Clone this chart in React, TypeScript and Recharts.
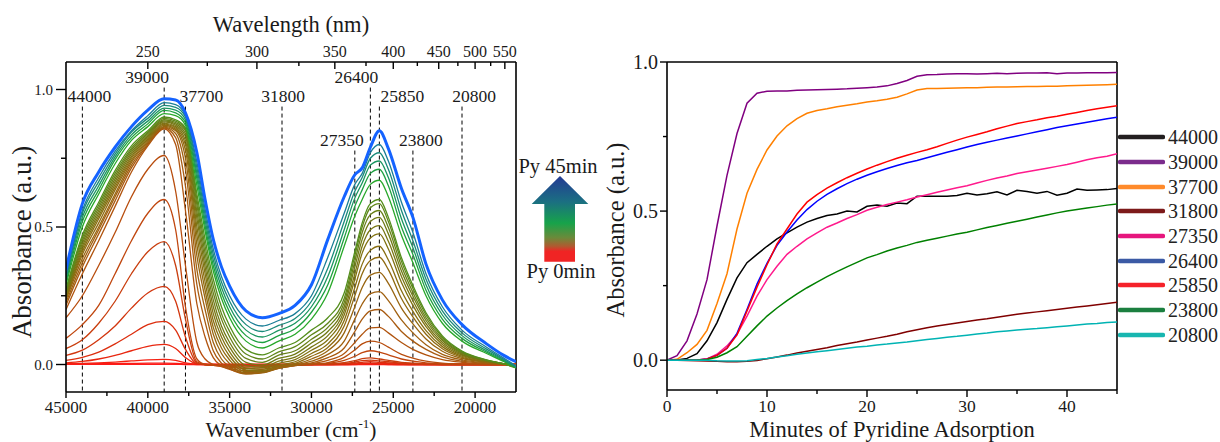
import { Legend, Line, LineChart, ReferenceLine, XAxis, YAxis } from "recharts";

const SERIF = '"Liberation Serif", "Times New Roman", serif';
const INK = "#1a1a1a";

// ---- left panel: UV-vis spectra, one array per snapshot (Py 0 min -> Py 45 min)
const WAVENUMBERS = [
  45000, 44000, 43000, 42000, 41000, 40000, 39000, 38300, 37700, 37000, 36500, 36000, 35500, 35000, 34000, 33000, 32000,
  31000, 30000, 29000, 28000, 27350, 26900, 26400, 25850, 25300, 24500, 23800, 23000, 22000, 20800, 19300, 18300, 17500,
];

const S00 = [0.001, 0.001, 0.001, 0.001, 0.001, 0.001, 0.001, 0.001, 0, 0, 0, 0, 0, 0, 0, 0, 0, 0, 0, 0, 0, 0, 0, 0, 0, 0, 0, 0, 0, 0, 0, 0, 0, 0];
const S01 = [0.002, 0.002, 0.003, 0.003, 0.004, 0.005, 0.005, 0.004, 0.002, 0, 0, 0, 0, 0, 0, 0, 0, 0, 0, 0, 0, 0, 0.001, 0.001, 0.001, 0, 0, 0, 0, 0, 0, 0, 0, 0];
const S02 = [0.003, 0.004, 0.006, 0.009, 0.013, 0.017, 0.019, 0.015, 0.006, 0.001, 0, 0, 0, 0, 0, 0, 0, 0, 0, 0, 0, 0.001, 0.002, 0.003, 0.002, 0.001, 0, 0, 0, 0, 0, 0, 0, 0];
const S03 = [0.006, 0.011, 0.02, 0.033, 0.05, 0.066, 0.073, 0.058, 0.025, 0.002, 0, 0, -0.001, -0.001, -0.001, -0.001, 0, 0, 0, 0, 0.001, 0.002, 0.004, 0.005, 0.004, 0.003, 0.001, 0, 0, 0, 0, 0, 0, 0];
const S04 = [0.015, 0.026, 0.045, 0.075, 0.11, 0.145, 0.157, 0.125, 0.055, 0.003, 0, -0.001, -0.002, -0.002, -0.003, -0.002, -0.001, 0, 0, 0, 0.002, 0.005, 0.008, 0.01, 0.008, 0.006, 0.003, 0.002, 0, 0, 0, 0, 0, 0];
const S05 = [0.033, 0.052, 0.09, 0.14, 0.205, 0.26, 0.284, 0.23, 0.1, 0.006, 0, -0.002, -0.003, -0.004, -0.005, -0.004, -0.002, 0, 0, 0.001, 0.004, 0.009, 0.014, 0.016, 0.013, 0.01, 0.005, 0.003, 0.001, 0, 0, 0, 0, 0];
const S06 = [0.058, 0.09, 0.15, 0.23, 0.33, 0.41, 0.447, 0.36, 0.165, 0.01, 0, -0.003, -0.005, -0.007, -0.009, -0.008, -0.004, -0.001, 0, 0.002, 0.007, 0.014, 0.021, 0.024, 0.02, 0.015, 0.008, 0.005, 0.002, 0, 0, 0, 0, 0];
const S07 = [0.095, 0.145, 0.215, 0.33, 0.45, 0.55, 0.6, 0.49, 0.21, 0.02, 0, -0.003, -0.006, -0.01, -0.014, -0.012, -0.006, -0.002, 0, 0.004, 0.015, 0.03, 0.043, 0.05, 0.045, 0.035, 0.02, 0.012, 0.006, 0.002, 0, 0, 0, 0];
const S08 = [0.17, 0.25, 0.36, 0.48, 0.61, 0.71, 0.76, 0.63, 0.36, 0.08, 0.02, 0, -0.008, -0.015, -0.022, -0.018, -0.009, -0.003, 0.001, 0.007, 0.026, 0.053, 0.075, 0.085, 0.08, 0.063, 0.037, 0.023, 0.012, 0.005, 0.002, 0, 0, 0];
const S09 = [0.2, 0.33, 0.45, 0.575, 0.7, 0.795, 0.857, 0.8, 0.56, 0.22, 0.1, 0.025, -0.005, -0.018, -0.03, -0.025, -0.012, -0.004, 0.003, 0.015, 0.04, 0.08, 0.11, 0.133, 0.135, 0.115, 0.08, 0.055, 0.035, 0.018, 0.008, 0.003, 0.001, 0];
const S10 = [0.215, 0.355, 0.475, 0.595, 0.715, 0.8, 0.86, 0.825, 0.65, 0.29, 0.155, 0.05, 0.005, -0.015, -0.034, -0.029, -0.014, -0.004, 0.006, 0.025, 0.06, 0.12, 0.165, 0.195, 0.2, 0.175, 0.12, 0.085, 0.055, 0.028, 0.012, 0.004, 0.001, -0.002];
const S11 = [0.225, 0.37, 0.49, 0.61, 0.725, 0.805, 0.863, 0.84, 0.71, 0.345, 0.2, 0.08, 0.02, -0.008, -0.034, -0.03, -0.014, -0.003, 0.012, 0.037, 0.085, 0.165, 0.22, 0.258, 0.265, 0.232, 0.162, 0.115, 0.072, 0.037, 0.017, 0.006, 0.001, -0.003];
const S12 = [0.235, 0.385, 0.5, 0.62, 0.735, 0.81, 0.866, 0.85, 0.75, 0.395, 0.24, 0.11, 0.04, 0.003, -0.031, -0.029, -0.012, 0, 0.02, 0.05, 0.115, 0.21, 0.28, 0.325, 0.335, 0.295, 0.205, 0.148, 0.093, 0.048, 0.022, 0.008, 0.002, -0.004];
const S13 = [0.24, 0.4, 0.515, 0.635, 0.742, 0.815, 0.87, 0.855, 0.78, 0.435, 0.27, 0.135, 0.06, 0.016, -0.026, -0.026, -0.008, 0.004, 0.03, 0.062, 0.14, 0.25, 0.33, 0.378, 0.39, 0.345, 0.24, 0.173, 0.11, 0.057, 0.026, 0.009, 0.002, -0.005];
const S14 = [0.245, 0.41, 0.53, 0.645, 0.75, 0.82, 0.874, 0.86, 0.8, 0.47, 0.3, 0.16, 0.08, 0.03, -0.02, -0.022, -0.003, 0.01, 0.04, 0.075, 0.16, 0.28, 0.365, 0.415, 0.43, 0.38, 0.268, 0.193, 0.123, 0.065, 0.03, 0.01, 0.002, -0.006];
const S15 = [0.25, 0.42, 0.54, 0.655, 0.757, 0.825, 0.878, 0.865, 0.815, 0.5, 0.33, 0.185, 0.1, 0.046, -0.013, -0.017, 0.004, 0.018, 0.052, 0.09, 0.18, 0.31, 0.405, 0.46, 0.475, 0.42, 0.298, 0.215, 0.138, 0.073, 0.034, 0.012, 0.003, -0.007];
const S16 = [0.255, 0.43, 0.55, 0.665, 0.765, 0.83, 0.882, 0.87, 0.83, 0.53, 0.355, 0.21, 0.12, 0.063, -0.004, -0.01, 0.012, 0.027, 0.064, 0.105, 0.195, 0.33, 0.43, 0.49, 0.505, 0.448, 0.32, 0.232, 0.149, 0.08, 0.037, 0.013, 0.003, -0.008];
const S17 = [0.26, 0.44, 0.56, 0.675, 0.772, 0.835, 0.886, 0.875, 0.84, 0.555, 0.38, 0.235, 0.14, 0.08, 0.008, -0.002, 0.022, 0.038, 0.078, 0.12, 0.21, 0.355, 0.455, 0.52, 0.535, 0.475, 0.34, 0.248, 0.16, 0.087, 0.04, 0.014, 0.003, -0.009];
const S18 = [0.265, 0.45, 0.57, 0.685, 0.78, 0.84, 0.89, 0.88, 0.85, 0.58, 0.405, 0.26, 0.165, 0.1, 0.022, 0.008, 0.034, 0.05, 0.092, 0.135, 0.225, 0.375, 0.48, 0.545, 0.56, 0.498, 0.358, 0.262, 0.17, 0.093, 0.043, 0.015, 0.003, -0.01];
const S19 = [0.27, 0.46, 0.58, 0.695, 0.787, 0.845, 0.895, 0.885, 0.855, 0.6, 0.43, 0.285, 0.185, 0.12, 0.038, 0.02, 0.046, 0.065, 0.108, 0.15, 0.24, 0.395, 0.5, 0.57, 0.585, 0.52, 0.375, 0.276, 0.18, 0.099, 0.046, 0.016, 0.003, -0.011];
const S20 = [0.275, 0.47, 0.59, 0.705, 0.795, 0.85, 0.9, 0.89, 0.86, 0.62, 0.455, 0.31, 0.21, 0.14, 0.055, 0.035, 0.06, 0.08, 0.125, 0.17, 0.26, 0.41, 0.515, 0.585, 0.6, 0.535, 0.388, 0.287, 0.188, 0.104, 0.049, 0.017, 0.003, -0.012];
const S21 = [0.29, 0.5, 0.62, 0.73, 0.815, 0.865, 0.912, 0.905, 0.87, 0.65, 0.485, 0.34, 0.24, 0.17, 0.085, 0.06, 0.085, 0.11, 0.165, 0.26, 0.43, 0.54, 0.6, 0.655, 0.67, 0.61, 0.47, 0.37, 0.25, 0.15, 0.085, 0.04, 0.012, -0.012];
const S22 = [0.3, 0.52, 0.635, 0.745, 0.825, 0.875, 0.924, 0.915, 0.88, 0.675, 0.505, 0.36, 0.26, 0.19, 0.105, 0.08, 0.105, 0.13, 0.19, 0.29, 0.46, 0.575, 0.635, 0.695, 0.71, 0.65, 0.5, 0.4, 0.27, 0.165, 0.095, 0.045, 0.015, -0.011];
const S23 = [0.31, 0.535, 0.65, 0.755, 0.835, 0.885, 0.932, 0.925, 0.89, 0.695, 0.525, 0.38, 0.28, 0.21, 0.125, 0.1, 0.124, 0.15, 0.21, 0.32, 0.49, 0.605, 0.66, 0.725, 0.74, 0.68, 0.53, 0.425, 0.29, 0.18, 0.105, 0.05, 0.018, -0.01];
const S24 = [0.32, 0.55, 0.665, 0.765, 0.845, 0.895, 0.942, 0.935, 0.9, 0.715, 0.545, 0.4, 0.3, 0.23, 0.145, 0.12, 0.142, 0.167, 0.23, 0.35, 0.52, 0.63, 0.68, 0.75, 0.77, 0.71, 0.56, 0.45, 0.31, 0.195, 0.115, 0.056, 0.021, -0.008];
const S25 = [0.325, 0.56, 0.68, 0.775, 0.85, 0.905, 0.952, 0.945, 0.905, 0.735, 0.565, 0.42, 0.32, 0.25, 0.165, 0.14, 0.16, 0.185, 0.25, 0.39, 0.55, 0.655, 0.695, 0.77, 0.8, 0.74, 0.59, 0.48, 0.33, 0.21, 0.125, 0.063, 0.025, -0.005];
const S26 = [0.345, 0.585, 0.7, 0.79, 0.865, 0.925, 0.966, 0.962, 0.915, 0.77, 0.6, 0.455, 0.355, 0.285, 0.195, 0.17, 0.185, 0.215, 0.29, 0.455, 0.61, 0.69, 0.715, 0.79, 0.85, 0.785, 0.64, 0.535, 0.365, 0.235, 0.145, 0.075, 0.035, 0.01];

const SPECTRA = [S00, S01, S02, S03, S04, S05, S06, S07, S08, S09, S10, S11, S12, S13, S14, S15, S16, S17, S18, S19, S20, S21, S22, S23, S24, S25, S26];

const WAVELENGTH_TICKS = [250, 275, 300, 325, 350, 375, 400, 425, 450, 475, 500, 525, 550];
const WAVENUMBER_TICKS = [45000, 42500, 40000, 37500, 35000, 32500, 30000, 27500, 25000, 22500, 20000];
const ABS_TICKS = [0, 0.25, 0.5, 0.75, 1];
const MARKERS = [44000, 39000, 37700, 31800, 27350, 26400, 25850, 23800, 20800];

// ---- right panel: kinetics at the marked wavenumbers
const MINUTES = [0, 1, 2, 3, 4, 5, 6, 7, 8, 9, 10, 11, 12, 13, 14, 15, 16, 17, 18, 19, 20, 21, 22, 23, 24, 25, 26, 27, 28, 29, 30, 31, 32, 33, 34, 35, 36, 37, 38, 39, 40, 41, 42, 43, 44, 45];
const K44000 = [0, 0.001, 0.006, 0.022, 0.065, 0.126, 0.204, 0.276, 0.327, 0.355, 0.382, 0.407, 0.427, 0.446, 0.463, 0.475, 0.485, 0.49, 0.5, 0.497, 0.516, 0.52, 0.516, 0.527, 0.525, 0.55, 0.55, 0.55, 0.55, 0.552, 0.56, 0.554, 0.558, 0.565, 0.554, 0.57, 0.566, 0.56, 0.566, 0.553, 0.56, 0.574, 0.57, 0.571, 0.572, 0.576];
const K39000 = [0, 0.015, 0.065, 0.155, 0.27, 0.45, 0.62, 0.76, 0.862, 0.895, 0.902, 0.903, 0.903, 0.905, 0.906, 0.907, 0.908, 0.909, 0.91, 0.912, 0.914, 0.916, 0.92, 0.928, 0.938, 0.952, 0.957, 0.958, 0.96, 0.961, 0.961, 0.96, 0.961, 0.962, 0.961, 0.962, 0.963, 0.963, 0.964, 0.961, 0.963, 0.963, 0.964, 0.964, 0.964, 0.965];
const K37700 = [0, 0.003, 0.025, 0.053, 0.1, 0.19, 0.29, 0.44, 0.56, 0.64, 0.705, 0.752, 0.786, 0.81, 0.828, 0.837, 0.843, 0.85, 0.855, 0.86, 0.866, 0.87, 0.875, 0.882, 0.893, 0.906, 0.911, 0.911, 0.912, 0.913, 0.914, 0.914, 0.915, 0.916, 0.916, 0.917, 0.918, 0.918, 0.919, 0.919, 0.92, 0.921, 0.922, 0.923, 0.924, 0.925];
const K31800 = [0, 0, -0.001, -0.002, -0.003, -0.004, -0.005, -0.005, -0.004, -0.001, 0.005, 0.011, 0.017, 0.024, 0.03, 0.036, 0.042, 0.049, 0.055, 0.061, 0.068, 0.074, 0.08, 0.087, 0.095, 0.102, 0.109, 0.115, 0.12, 0.125, 0.13, 0.135, 0.139, 0.144, 0.149, 0.154, 0.158, 0.162, 0.166, 0.17, 0.174, 0.178, 0.182, 0.186, 0.19, 0.194];
const K27350 = [0, 0, 0, 0, 0.004, 0.02, 0.048, 0.087, 0.148, 0.215, 0.27, 0.315, 0.355, 0.382, 0.407, 0.427, 0.446, 0.46, 0.475, 0.488, 0.503, 0.513, 0.522, 0.53, 0.538, 0.547, 0.555, 0.563, 0.571, 0.578, 0.585, 0.594, 0.603, 0.611, 0.618, 0.626, 0.632, 0.638, 0.644, 0.65, 0.656, 0.664, 0.672, 0.679, 0.684, 0.692];
const K26400 = [0, 0, 0, 0.001, 0.004, 0.016, 0.04, 0.09, 0.17, 0.255, 0.325, 0.385, 0.43, 0.47, 0.505, 0.533, 0.556, 0.575, 0.592, 0.607, 0.62, 0.632, 0.643, 0.653, 0.662, 0.67, 0.679, 0.688, 0.697, 0.706, 0.715, 0.723, 0.731, 0.738, 0.745, 0.752, 0.759, 0.766, 0.773, 0.78, 0.786, 0.792, 0.798, 0.804, 0.81, 0.815];
const K25850 = [0, 0, 0, 0.001, 0.004, 0.016, 0.04, 0.085, 0.165, 0.245, 0.32, 0.39, 0.44, 0.49, 0.53, 0.555, 0.577, 0.595, 0.612, 0.627, 0.641, 0.654, 0.666, 0.677, 0.687, 0.697, 0.706, 0.716, 0.727, 0.738, 0.748, 0.757, 0.766, 0.776, 0.785, 0.794, 0.8, 0.806, 0.813, 0.818, 0.825, 0.831, 0.837, 0.843, 0.848, 0.853];
const K23800 = [0, 0, 0, 0, 0.002, 0.01, 0.025, 0.045, 0.08, 0.115, 0.148, 0.175, 0.2, 0.222, 0.243, 0.262, 0.28, 0.297, 0.313, 0.328, 0.343, 0.354, 0.366, 0.376, 0.385, 0.395, 0.402, 0.409, 0.416, 0.423, 0.429, 0.437, 0.445, 0.452, 0.459, 0.466, 0.473, 0.48, 0.487, 0.494, 0.5, 0.505, 0.51, 0.515, 0.52, 0.524];
const K20800 = [0, 0, 0, 0, 0, -0.002, -0.003, -0.003, -0.002, 0.002, 0.006, 0.011, 0.015, 0.02, 0.024, 0.028, 0.032, 0.036, 0.04, 0.044, 0.047, 0.051, 0.054, 0.058, 0.061, 0.065, 0.069, 0.073, 0.077, 0.08, 0.084, 0.088, 0.091, 0.095, 0.098, 0.101, 0.104, 0.106, 0.109, 0.112, 0.115, 0.118, 0.121, 0.123, 0.126, 0.128];
const MINUTE_TICKS = [0, 5, 10, 15, 20, 25, 30, 35, 40, 45];

const KINETICS = [
  { key: "k44000", name: "44000", values: K44000, color: "#000000", legend: "#231f20" },
  { key: "k39000", name: "39000", values: K39000, color: "#800080", legend: "#7b2c8c" },
  { key: "k37700", name: "37700", values: K37700, color: "#ff8000", legend: "#ff8a2a" },
  { key: "k31800", name: "31800", values: K31800, color: "#800000", legend: "#7d1a1a" },
  { key: "k27350", name: "27350", values: K27350, color: "#ff1a8c", legend: "#e6167d" },
  { key: "k26400", name: "26400", values: K26400, color: "#0000ff", legend: "#3b5aa5" },
  { key: "k25850", name: "25850", values: K25850, color: "#ff0000", legend: "#f5222a" },
  { key: "k23800", name: "23800", values: K23800, color: "#008000", legend: "#1b7f3f" },
  { key: "k20800", name: "20800", values: K20800, color: "#00b3b3", legend: "#18b6b0" },
];

// red -> brown -> olive -> green -> teal -> blue, one per snapshot
const SPECTRA_COLORS = [
  "#ff1a1a", "#fa1c16", "#f42012", "#e8260f", "#dc2e0e", "#d2360e", "#c93e0e", "#c0460e", "#b84d0e",
  "#b0540f", "#a85a10", "#a06010", "#986510", "#906a10", "#886e10", "#807212", "#787614", "#707a16",
  "#688018", "#60861a", "#548e1c", "#28a82a", "#1ea040", "#1a9560", "#1a8a7a", "#1a7e96", "#1563ff",
];

// label placement for the dashed markers: row 0/1/2 and horizontal nudge
const MARKER_LAYOUT: Record<number, { row: number; dx: number }> = {
  44000: { row: 1, dx: 7 },
  39000: { row: 0, dx: -17 },
  37700: { row: 1, dx: 16 },
  31800: { row: 1, dx: 1 },
  27350: { row: 2, dx: -13 },
  26400: { row: 0, dx: -14 },
  25850: { row: 1, dx: 23 },
  23800: { row: 2, dx: 8 },
  20800: { row: 1, dx: 12 },
};
const ROW_TOP = [1.007, 0.938, 0.778];

const spectraRows = WAVENUMBERS.map((wn, i) => {
  const row: Record<string, number> = { wn };
  SPECTRA.forEach((s, k) => (row[`s${k}`] = s[i]));
  return row;
});

const kineticRows = MINUTES.map((t, i) => {
  const row: Record<string, number> = { t };
  KINETICS.forEach((k) => (row[k.key] = k.values[i]));
  return row;
});

const AXIS = { stroke: "#000", strokeWidth: 1.6 };

function WavenumberTick(p: any) {
  const v = p.payload.value;
  const major = v % 5000 === 0;
  return (
    <g>
      <line x1={p.x} x2={p.x} y1={p.y} y2={p.y + (major ? 6 : 4)} stroke="#000" strokeWidth={1.4} />
      {major && (
        <text x={p.x} y={p.y + 21} textAnchor="middle" fontSize={17} fontFamily={SERIF} fill={INK}>
          {v}
        </text>
      )}
    </g>
  );
}

function WavelengthTick(p: any) {
  const nm = Math.round(1e7 / p.payload.value);
  const major = nm % 50 === 0;
  return (
    <g>
      <line x1={p.x} x2={p.x} y1={p.y} y2={p.y + (major ? 7 : 4)} stroke="#000" strokeWidth={1.4} />
      {major && (
        <text x={p.x} y={p.y - 5} textAnchor="middle" fontSize={16} fontFamily={SERIF} fill={INK}>
          {nm}
        </text>
      )}
    </g>
  );
}

function LeftAbsTick(p: any) {
  const v = p.payload.value;
  const major = v % 0.5 === 0;
  return (
    <g>
      <line x1={p.x - (major ? 10 : 5)} x2={p.x} y1={p.y} y2={p.y} stroke="#000" strokeWidth={1.4} />
      {major && (
        <text x={p.x - 13} y={p.y} dy="0.35em" textAnchor="end" fontSize={15} fontFamily={SERIF} fill={INK}>
          {v.toFixed(1)}
        </text>
      )}
    </g>
  );
}

function RightAbsTick(p: any) {
  const v = p.payload.value;
  const major = v % 0.5 === 0;
  return (
    <g>
      <line x1={p.x - (major ? 7 : 4)} x2={p.x} y1={p.y} y2={p.y} stroke="#000" strokeWidth={1.4} />
      {major && (
        <text x={p.x - 9} y={p.y} dy="0.35em" textAnchor="end" fontSize={20} fontFamily={SERIF} fill={INK}>
          {v.toFixed(1)}
        </text>
      )}
    </g>
  );
}

function MinuteTick(p: any) {
  const v = p.payload.value;
  const major = v % 10 === 0;
  return (
    <g>
      <line x1={p.x} x2={p.x} y1={p.y} y2={p.y + (major ? 7 : 4)} stroke="#000" strokeWidth={1.4} />
      {major && (
        <text x={p.x} y={p.y + 22} textAnchor="middle" fontSize={17.5} fontFamily={SERIF} fill={INK}>
          {v}
        </text>
      )}
    </g>
  );
}

function KineticsLegend(props: any) {
  const order = KINETICS.map((k) => k.key);
  const items = [...(props.payload ?? [])].sort((a: any, b: any) => order.indexOf(a.dataKey) - order.indexOf(b.dataKey));
  return (
    <div style={{ fontFamily: SERIF }}>
      {items.map((e: any) => {
        const k = KINETICS.find((s) => s.key === e.dataKey);
        return (
          <div key={e.value} style={{ height: 24.7, display: "flex", alignItems: "center" }}>
            <svg width={47} height={8}>
              <line x1={2} x2={45} y1={4} y2={4} stroke={k ? k.legend : e.color} strokeWidth={4.5} strokeLinecap="round" />
            </svg>
            <span style={{ fontSize: 20, marginLeft: 3, color: "#222", lineHeight: 1 }}>{e.value}</span>
          </div>
        );
      })}
    </div>
  );
}

function SpectraChart() {
  return (
    <LineChart width={560} height={442} data={spectraRows} margin={{ top: 0, right: 44, bottom: 0, left: 0 }}>
      <XAxis
        xAxisId="bottom"
        dataKey="wn"
        type="number"
        domain={[17500, 45000]}
        reversed
        allowDataOverflow
        ticks={WAVENUMBER_TICKS}
        interval={0}
        tickSize={0}
        tickMargin={0}
        tickLine={false}
        tick={(p: any) => <WavenumberTick {...p} />}
        height={50}
        axisLine={AXIS}
        label={() => (
          <text x={291} y={437} textAnchor="middle" fontSize={21.5} fontFamily={SERIF} fill={INK}>
            Wavenumber (cm
            <tspan dy={-9} fontSize={13}>
              -1
            </tspan>
            <tspan dy={9}>)</tspan>
          </text>
        )}
      />
      <XAxis
        xAxisId="top"
        orientation="top"
        dataKey="wn"
        type="number"
        domain={[17500, 45000]}
        reversed
        allowDataOverflow
        ticks={WAVELENGTH_TICKS.map((nm) => 1e7 / nm)}
        interval={0}
        tickSize={0}
        tickMargin={0}
        tickLine={false}
        tick={(p: any) => <WavelengthTick {...p} />}
        height={62}
        axisLine={AXIS}
        label={() => (
          <text x={291} y={32} textAnchor="middle" fontSize={22.5} fontFamily={SERIF} fill={INK}>
            Wavelength (nm)
          </text>
        )}
      />
      <YAxis
        type="number"
        domain={[-0.1, 1.1]}
        allowDataOverflow
        ticks={ABS_TICKS}
        interval={0}
        width={66}
        tickSize={0}
        tickMargin={0}
        tickLine={false}
        tick={(p: any) => <LeftAbsTick {...p} />}
        axisLine={AXIS}
        label={() => (
          <text transform="translate(31,242) rotate(-90)" textAnchor="middle" fontSize={27} fontFamily={SERIF} fill={INK}>
            Absorbance (a.u.)
          </text>
        )}
      />
      <ReferenceLine xAxisId="bottom" x={17500} stroke="#000" strokeWidth={1.6} ifOverflow="visible" />
      {MARKERS.map((v) => {
        const lay = MARKER_LAYOUT[v];
        return (
          <ReferenceLine
            key={v}
            xAxisId="bottom"
            segment={[
              { x: v, y: ROW_TOP[lay.row] },
              { x: v, y: -0.1 },
            ]}
            stroke="#000"
            strokeWidth={1}
            strokeDasharray="4 3"
            ifOverflow="visible"
            label={(p: any) => (
              <text
                x={(p.viewBox?.x ?? 0) + lay.dx}
                y={(p.viewBox?.y ?? 0) - 5}
                textAnchor="middle"
                fontSize={17.5}
                fontFamily={SERIF}
                fill={INK}
              >
                {v}
              </text>
            )}
          />
        );
      })}
      {SPECTRA.map((_, k) => (
        <Line
          key={k}
          xAxisId={k === 0 ? "top" : "bottom"}
          type="monotone"
          dataKey={`s${k}`}
          stroke={SPECTRA_COLORS[k]}
          strokeWidth={k === SPECTRA.length - 1 ? 3 : 1.3}
          dot={false}
          activeDot={false}
          isAnimationActive={false}
        />
      ))}
    </LineChart>
  );
}

function KineticsChart() {
  return (
    <LineChart width={630} height={442} data={kineticRows} margin={{ top: 62, right: 103, bottom: 0, left: 0 }}>
      <XAxis
        dataKey="t"
        type="number"
        domain={[0, 45]}
        allowDataOverflow
        ticks={MINUTE_TICKS}
        interval={0}
        tickSize={0}
        tickMargin={0}
        tickLine={false}
        tick={(p: any) => <MinuteTick {...p} />}
        height={52}
        axisLine={AXIS}
        label={() => (
          <text x={302} y={437} textAnchor="middle" fontSize={22.5} fontFamily={SERIF} fill={INK}>
            Minutes of Pyridine Adsorption
          </text>
        )}
      />
      <YAxis
        type="number"
        domain={[-0.1, 1]}
        allowDataOverflow
        ticks={ABS_TICKS}
        interval={0}
        width={77}
        tickSize={0}
        tickMargin={0}
        tickLine={false}
        tick={(p: any) => <RightAbsTick {...p} />}
        axisLine={AXIS}
        label={() => (
          <text transform="translate(34,230) rotate(-90)" textAnchor="middle" fontSize={24.5} fontFamily={SERIF} fill={INK}>
            Absorbance (a.u.)
          </text>
        )}
      />
      <ReferenceLine y={1} stroke="#000" strokeWidth={1.6} ifOverflow="visible" />
      <ReferenceLine x={45} stroke="#000" strokeWidth={1.6} ifOverflow="visible" />
      {KINETICS.map((k) => (
        <Line
          key={k.key}
          type="linear"
          dataKey={k.key}
          name={k.name}
          stroke={k.color}
          strokeWidth={1.5}
          dot={false}
          activeDot={false}
          isAnimationActive={false}
        />
      ))}
      <Legend
        layout="vertical"
        align="center"
        verticalAlign="middle"
        content={(p: any) => <KineticsLegend {...p} />}
        wrapperStyle={{ left: 528, top: 125, width: 100, height: 225 }}
      />
    </LineChart>
  );
}

function TimeArrow() {
  return (
    <svg width={110} height={150} style={{ position: "absolute", left: 500, top: 140, overflow: "visible" }}>
      <defs>
        <linearGradient id="pyGrad" x1="0" y1="0" x2="0" y2="1">
          <stop offset="0" stopColor="#233a94" />
          <stop offset="0.3" stopColor="#1b6f82" />
          <stop offset="0.55" stopColor="#17a34a" />
          <stop offset="0.72" stopColor="#6b8a3a" />
          <stop offset="0.82" stopColor="#b05a30" />
          <stop offset="0.88" stopColor="#f02424" />
          <stop offset="1" stopColor="#f02424" />
        </linearGradient>
      </defs>
      <polygon points="60,36 88.3,64 75,64 75,121.7 44.3,121.7 44.3,64 31.7,64" fill="url(#pyGrad)" />
      <text x={58} y={33} textAnchor="middle" fontSize={20.5} fontFamily={SERIF} fill={INK}>
        Py 45min
      </text>
      <text x={61} y={138} textAnchor="middle" fontSize={20.5} fontFamily={SERIF} fill={INK}>
        Py 0min
      </text>
    </svg>
  );
}

export default function App() {
  return (
    <div style={{ position: "absolute", left: 0, top: 0, width: 1220, height: 442, background: "#fff", fontFamily: SERIF }}>
      <div style={{ position: "absolute", left: 0, top: 0 }}>
        <SpectraChart />
      </div>
      <div style={{ position: "absolute", left: 590, top: 0 }}>
        <KineticsChart />
      </div>
      <TimeArrow />
    </div>
  );
}
